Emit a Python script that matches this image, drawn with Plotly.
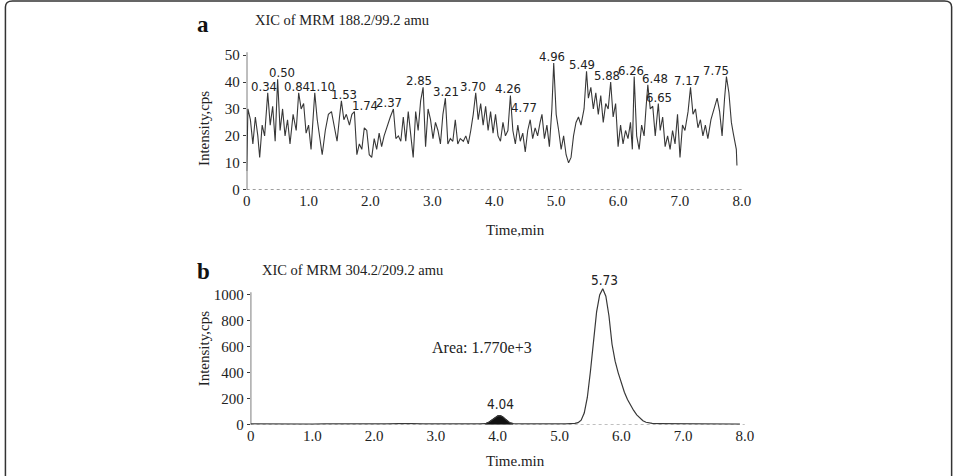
import numpy as np
import plotly.graph_objects as go

# ---------------- data ----------------
# Panel a: XIC of MRM 188.2/99.2 amu (noise trace)
time_a = [0.00, 0.02, 0.06, 0.10, 0.14, 0.18, 0.21, 0.25, 0.29, 0.34, 0.38, 0.42, 0.46, 0.50,
          0.54, 0.58, 0.62, 0.66, 0.70, 0.75, 0.80, 0.84, 0.88, 0.92, 0.96, 1.00, 1.04, 1.10,
          1.14, 1.18, 1.22, 1.27, 1.32, 1.37, 1.42, 1.46, 1.50, 1.53, 1.57, 1.61, 1.66, 1.70,
          1.74, 1.78, 1.82, 1.86, 1.90, 1.94, 1.98, 2.02, 2.06, 2.10, 2.14, 2.18, 2.22, 2.27,
          2.32, 2.37, 2.41, 2.45, 2.49, 2.53, 2.57, 2.61, 2.65, 2.69, 2.73, 2.77, 2.81, 2.85,
          2.89, 2.93, 2.97, 3.01, 3.05, 3.09, 3.13, 3.17, 3.21, 3.25, 3.29, 3.33, 3.37, 3.41,
          3.45, 3.50, 3.54, 3.58, 3.62, 3.66, 3.70, 3.74, 3.78, 3.82, 3.86, 3.90, 3.94, 3.98,
          4.02, 4.06, 4.10, 4.14, 4.18, 4.22, 4.26, 4.30, 4.34, 4.38, 4.42, 4.46, 4.50, 4.54,
          4.58, 4.62, 4.66, 4.70, 4.74, 4.77, 4.81, 4.85, 4.89, 4.93, 4.96, 5.00, 5.04, 5.08,
          5.12, 5.16, 5.20, 5.24, 5.28, 5.32, 5.36, 5.40, 5.45, 5.49, 5.52, 5.56, 5.60, 5.64,
          5.68, 5.72, 5.76, 5.80, 5.84, 5.88, 5.92, 5.96, 6.00, 6.04, 6.08, 6.12, 6.16, 6.20,
          6.23, 6.26, 6.30, 6.34, 6.38, 6.42, 6.45, 6.48, 6.52, 6.56, 6.60, 6.65, 6.68, 6.72,
          6.76, 6.80, 6.84, 6.88, 6.92, 6.96, 7.00, 7.04, 7.08, 7.13, 7.17, 7.21, 7.25, 7.29,
          7.33, 7.37, 7.41, 7.45, 7.50, 7.55, 7.60, 7.64, 7.68, 7.72, 7.75, 7.79, 7.83, 7.86,
          7.89, 7.91, 7.92]
intensity_a = [7, 30, 26, 17, 27, 20, 12, 24, 20, 36, 24, 31, 18, 41,
               22, 30, 20, 26, 17, 28, 22, 36, 30, 32, 21, 24, 15, 36,
               26, 20, 13, 22, 28, 29, 22, 18, 27, 33, 26, 28, 24, 28,
               29, 13, 17, 15, 23, 22, 13, 12, 19, 15, 21, 16, 20, 24,
               27, 30, 19, 20, 18, 27, 18, 29, 20, 12, 29, 22, 33, 38,
               16, 30, 26, 19, 25, 22, 17, 28, 34, 17, 19, 18, 26, 17,
               19, 18, 20, 17, 22, 28, 36, 26, 32, 24, 31, 22, 29, 21,
               28, 20, 18, 25, 20, 22, 35, 22, 17, 24, 18, 21, 14, 22,
               26, 19, 23, 20, 25, 28, 19, 24, 16, 30, 47, 28, 22, 15,
               20, 13, 10, 12, 20, 25, 27, 24, 30, 44, 34, 38, 30, 36,
               28, 35, 25, 32, 30, 40, 27, 32, 16, 24, 17, 22, 19, 25,
               15, 42, 20, 15, 24, 20, 30, 39, 30, 31, 20, 32, 22, 27,
               16, 20, 15, 22, 17, 28, 12, 24, 22, 29, 38, 28, 30, 23,
               26, 20, 24, 19, 26, 30, 34, 29, 20, 34, 42, 36, 25, 21,
               18, 15, 9]
peak_labels_a = ["0.34", "0.50", "0.84", "1.10", "1.53", "1.74", "2.37", "2.85", "3.21",
                 "3.70", "4.26", "4.77", "4.96", "5.49", "5.88", "6.26", "6.48", "6.65",
                 "7.17", "7.75"]

# Panel b: XIC of MRM 304.2/209.2 amu
time_b = [0.00, 0.20, 0.40, 0.60, 0.80, 1.00, 1.20, 1.40, 1.50, 1.60, 1.80, 2.00, 2.20,
          2.40, 2.50, 2.60, 2.80, 3.00, 3.20, 3.40, 3.60, 3.70, 3.80, 3.85, 3.90, 3.95,
          4.00, 4.04, 4.08, 4.12, 4.16, 4.20, 4.25, 4.30, 4.40, 4.50, 4.60, 4.80, 5.00,
          5.10, 5.20, 5.25, 5.30, 5.35, 5.40, 5.45, 5.50, 5.55, 5.60, 5.65, 5.70, 5.75,
          5.80, 5.85, 5.90, 5.95, 6.00, 6.05, 6.10, 6.15, 6.20, 6.25, 6.30, 6.35, 6.40,
          6.45, 6.50, 6.60, 6.80, 7.00, 7.20, 7.40, 7.60, 7.80, 7.92]
intensity_b = [6, 5, 6, 5, 6, 5, 6, 8, 11, 7, 6, 5, 6,
               9, 11, 8, 6, 5, 6, 6, 7, 6, 8, 18, 35, 55,
               68, 70, 62, 45, 28, 14, 9, 7, 6, 6, 5, 6, 6,
               7, 8, 10, 16, 35, 90, 210, 410, 650, 870, 1000, 1048, 990,
               840, 620, 490, 400, 320, 250, 195, 150, 110, 76, 50, 31, 19,
               13, 10, 9, 8, 7, 8, 6, 6, 5, 5]
peak_label_b_small = "4.04"
peak_label_b_main = "5.73"
area_text = "Area: 1.770e+3"

x_ticks = [0, 1, 2, 3, 4, 5, 6, 7, 8]
x_ticktext = ["0", "1.0", "2.0", "3.0", "4.0", "5.0", "6.0", "7.0", "8.0"]
y_ticks_a = [0, 10, 20, 30, 40, 50]
y_ticks_b = [0, 200, 400, 600, 800, 1000]

# label nudges (pixels) mimicking the instrument software's placement
label_xshift_a = [-4, 4, -2, 7, 3, 11, -4, -4, 1, -3, -2, -18, -2, -5, -4, -3, 7, 1, -4, -10]

# ---------------- figure ----------------
W, H = 963, 476
def px(x):
    return x / W
def py(y):
    return 1 - y / H

LINE = "#383838"
SERIF = "Liberation Serif, Times New Roman, serif"
NARROW = "DejaVu Sans Condensed, Liberation Sans Narrow, Arial Narrow, sans-serif"

fig = go.Figure()
fig.add_trace(go.Scatter(x=time_a, y=intensity_a, mode="lines",
                         line=dict(color=LINE, width=1.1), xaxis="x", yaxis="y",
                         showlegend=False, hoverinfo="skip"))
tb = np.array(time_b)
ib = np.array(intensity_b)
mask = (tb >= 3.80) & (tb <= 4.25)
fig.add_trace(go.Scatter(x=tb[mask], y=ib[mask], mode="lines", fill="tozeroy",
                         fillcolor="#111111", line=dict(color="#111111", width=1),
                         xaxis="x2", yaxis="y2", showlegend=False, hoverinfo="skip"))
fig.add_trace(go.Scatter(x=time_b, y=intensity_b, mode="lines",
                         line=dict(color=LINE, width=1.2), xaxis="x2", yaxis="y2",
                         showlegend=False, hoverinfo="skip"))

axis_common = dict(showgrid=False, zeroline=False, ticks="", showline=False,
                   tickfont=dict(family=SERIF, size=15, color="#222"))
ytick_style = dict(ticks="outside", ticklen=3, tickcolor=LINE)
# pixel geometry
AX0, AX8 = 246, 748
BX0, BX8 = 250, 751
A0, A50 = 193, 56
B0, B1000 = 432, 300
a_top = 48
b_top = 289
fig.update_layout(
    width=W, height=H, margin=dict(l=0, r=0, t=0, b=0),
    paper_bgcolor="white", plot_bgcolor="white",
    xaxis=dict(domain=[px(AX0), px(AX8)], range=[0, 8], tickvals=x_ticks,
               ticktext=x_ticktext, anchor="y", **axis_common),
    yaxis=dict(domain=[py(A0), py(a_top)], range=[0, 50 * (A0 - a_top) / (A0 - A50)],
               tickvals=y_ticks_a, anchor="x", **{**axis_common, **ytick_style}),
    xaxis2=dict(domain=[px(BX0), px(BX8)], range=[0, 8], tickvals=x_ticks,
                ticktext=x_ticktext, anchor="y2", **axis_common),
    yaxis2=dict(domain=[py(B0), py(b_top)], range=[0, 1000 * (B0 - b_top) / (B0 - B1000)],
                tickvals=y_ticks_b, anchor="x2", **{**axis_common, **ytick_style}),
)

shapes = []
shapes.append(dict(type="line", xref="x", yref="y", x0=0, x1=0, y0=0, y1=51,
                   line=dict(color=LINE, width=1.3)))
shapes.append(dict(type="line", xref="x2", yref="y2", x0=0, x1=0, y0=0, y1=1020,
                   line=dict(color=LINE, width=1.3)))
shapes.append(dict(type="line", xref="x", yref="y", x0=0, x1=8, y0=0, y1=0,
                   line=dict(color="#555", width=1.2, dash="dot")))
shapes.append(dict(type="line", xref="x2", yref="y2", x0=0, x1=8, y0=-3, y1=-3,
                   line=dict(color="#555", width=1.2, dash="dot")))
shapes.append(dict(type="path", xref="paper", yref="paper",
                   path="M 0.0015,-0.1 L 0.0015,0.985 Q 0.0015,0.998 0.009,0.998 "
                        "L 0.99,0.998 Q 0.9975,0.998 0.9975,0.985 L 0.9975,-0.1",
                   line=dict(color="#333", width=1.5)))
fig.update_layout(shapes=shapes)

ann = []
ta = np.array(time_a)
ia = np.array(intensity_a)
for lab, dx in zip(peak_labels_a, label_xshift_a):
    t = float(lab)
    i = int(np.argmin(np.abs(ta - t)))
    ann.append(dict(x=ta[i], y=ia[i], xref="x", yref="y", text=lab, showarrow=False,
                    xanchor="center", yanchor="bottom", yshift=-3, xshift=dx,
                    font=dict(family=NARROW, size=13, color="#222")))
i_small = int(np.argmin(np.abs(tb - float(peak_label_b_small))))
ann.append(dict(x=tb[i_small], y=ib[i_small], xref="x2", yref="y2", text=peak_label_b_small,
                showarrow=False, xanchor="center", yanchor="bottom", yshift=2,
                font=dict(family=NARROW, size=13.5, color="#222")))
i_main = int(np.argmax(ib))
ann.append(dict(x=tb[i_main], y=ib[i_main], xref="x2", yref="y2", text=peak_label_b_main,
                showarrow=False, xanchor="center", yanchor="bottom", yshift=-1, xshift=2,
                font=dict(family=NARROW, size=13.5, color="#222")))

def pann(text, x, y, size, family=SERIF, xanchor="center", angle=0, color="#222"):
    ann.append(dict(x=px(x), y=py(y), xref="paper", yref="paper", text=text,
                    xanchor=xanchor, yanchor="middle", textangle=angle, showarrow=False,
                    font=dict(family=family, size=size, color=color)))

pann(area_text, 485, 353, 16)
pann("<b>a</b>", 202, 25, 23, color="#111")
pann("<b>b</b>", 202, 276, 23, color="#111")
pann("XIC of MRM 188.2/99.2 amu", 252, 20, 14.5, xanchor="left")
pann("XIC of MRM 304.2/209.2 amu", 259, 275, 14.5, xanchor="left")
pann("Intensity,cps", 203, 131, 15, angle=-90)
pann("Intensity,cps", 203, 355, 15, angle=-90)
pann("Time,min", 518, 234, 15)
pann("Time.min", 518, 469, 15)
fig.update_layout(annotations=ann)

fig.write_html("out.html")
